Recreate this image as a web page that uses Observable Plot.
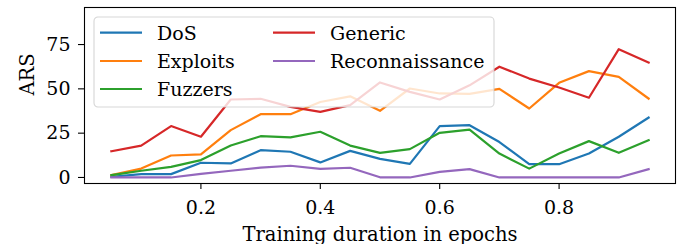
<!DOCTYPE html>
<html>
<head>
<meta charset="utf-8">
<script src="https://cdn.jsdelivr.net/npm/d3@7"></script>
<script src="https://cdn.jsdelivr.net/npm/@observablehq/plot@0.6"></script>
<style>
  html, body { margin: 0; padding: 0; background: white; }
  #chart { position: relative; width: 686px; height: 244px; }
</style>
</head>
<body>
<div id="chart"></div>
<script>
const epochs = [0.05, 0.10, 0.15, 0.20, 0.25, 0.30, 0.35, 0.40, 0.45, 0.50, 0.55, 0.60, 0.65, 0.70, 0.75, 0.80, 0.85, 0.90, 0.95];
const seriesNames = ["DoS", "Exploits", "Fuzzers", "Generic", "Reconnaissance"];
const dos = [0.4, 1.9, 1.9, 8.3, 7.9, 15.4, 14.5, 8.5, 15.0, 10.5, 7.7, 29.0, 29.5, 20.0, 7.5, 7.5, 13.5, 23.0, 33.8];
const exploits = [1.3, 5.0, 12.4, 13.0, 26.7, 35.7, 35.7, 42.6, 45.8, 37.6, 50.2, 47.4, 47.2, 50.0, 38.9, 53.4, 60.0, 56.8, 44.5];
const fuzzers = [1.3, 3.8, 6.0, 9.8, 18.0, 23.3, 22.6, 25.8, 18.0, 13.9, 16.0, 25.2, 27.0, 13.5, 5.0, 13.5, 20.5, 13.9, 21.0];
const generic = [14.8, 18.0, 29.0, 23.0, 44.0, 44.4, 39.8, 37.0, 40.8, 53.6, 48.3, 44.0, 52.0, 62.5, 55.8, 50.8, 45.0, 72.4, 64.8];
const recon = [0.0, 0.0, 0.0, 2.0, 3.8, 5.6, 6.6, 4.9, 5.5, 0.1, 0.0, 3.2, 4.7, 0.0, 0.0, 0.0, 0.0, 0.0, 4.7];
const colors = ["#1f77b4", "#ff7f0e", "#2ca02c", "#d62728", "#9467bd"];
const xTicks = [0.2, 0.4, 0.6, 0.8];
const yTicks = [0, 25, 50, 75];
const xLabel = "Training duration in epochs";
const yLabel = "ARS";

const valuesBySeries = [dos, exploits, fuzzers, generic, recon];
const rows = [];
seriesNames.forEach((name, s) => {
  valuesBySeries[s].forEach((v, i) => rows.push({epoch: epochs[i], value: v, series: name}));
});

const font = "DejaVu Serif";
const plot = Plot.plot({
  width: 686,
  height: 244,
  marginLeft: 84,
  marginRight: 11,
  marginTop: 7,
  marginBottom: 61,
  style: {fontFamily: font, fontSize: "19px", color: "black", background: "white"},
  x: {domain: [0.005, 0.995]},
  y: {domain: [-3.4, 95.9]},
  color: {domain: seriesNames, range: colors},
  marks: [
    Plot.line(rows, {x: "epoch", y: "value", stroke: "series", strokeWidth: 2.2, z: "series", strokeLinejoin: "round", strokeLinecap: "square"}),
    Plot.frame({stroke: "black", strokeWidth: 1.1}),
    Plot.axisX({ticks: xTicks, tickFormat: d => d.toFixed(1), tickSize: 6, tickPadding: 10.5, strokeWidth: 1.1, label: null, fontSize: 19}),
    Plot.axisY({ticks: yTicks, tickFormat: d => String(d), tickSize: 6, tickPadding: 8, strokeWidth: 1.1, label: null, fontSize: 19}),
    Plot.text([xLabel], {frameAnchor: "bottom", text: d => d, dy: 57, lineAnchor: "bottom", fontSize: 19.5}),
    Plot.text([yLabel], {frameAnchor: "left", text: d => d, dx: -56.5, rotate: -90, fontSize: 19.5})
  ]
});
document.getElementById("chart").appendChild(plot);

// In-axes legend (matplotlib style), drawn into the SVG
const colorScale = plot.scale("color");
const svg = d3.select(plot);
const lg = svg.append("g").attr("transform", "translate(94,17)").attr("text-anchor", "start");
lg.append("rect").attr("width", 400).attr("height", 90).attr("rx", 4)
  .attr("fill", "white").attr("fill-opacity", 0.8)
  .attr("stroke", "#cccccc").attr("stroke-opacity", 0.8).attr("stroke-width", 1.1);
const rowY = [15.7, 44, 72];
const colX = [6, 179];
seriesNames.forEach((name, k) => {
  const col = k < 3 ? 0 : 1;
  const r = k < 3 ? k : k - 3;
  const cx = colX[col], cy = rowY[r];
  lg.append("line").attr("x1", cx).attr("x2", cx + 42).attr("y1", cy).attr("y2", cy)
    .attr("stroke", colorScale.apply(name)).attr("stroke-width", 2.2);
  lg.append("text").attr("x", cx + 57).attr("y", cy + 7).attr("text-anchor", "start")
    .attr("font-family", font).attr("font-size", 19).attr("fill", "black").text(name);
});
</script>
</body>
</html>
